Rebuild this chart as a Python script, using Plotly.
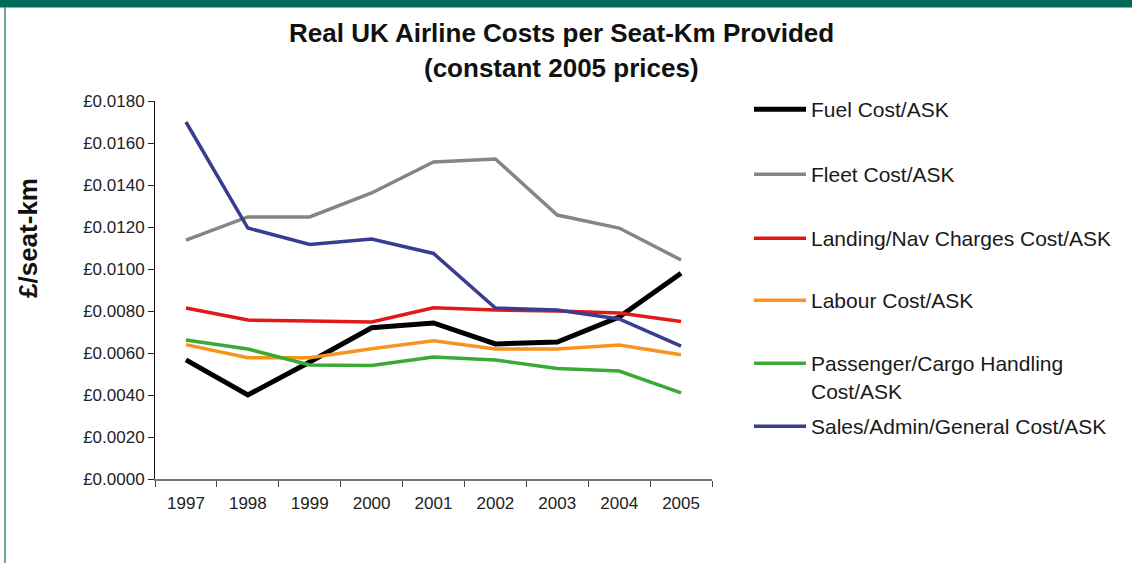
import plotly.graph_objects as go

years = ["1997", "1998", "1999", "2000", "2001", "2002", "2003", "2004", "2005"]

fuel = [0.00567, 0.00400, 0.00557, 0.00720, 0.00743, 0.00643, 0.00652, 0.00771, 0.00980]
fleet = [0.01138, 0.01248, 0.01248, 0.01362, 0.01510, 0.01524, 0.01257, 0.01195, 0.01043]
landing = [0.00814, 0.00757, 0.00752, 0.00748, 0.00815, 0.00805, 0.00800, 0.00790, 0.00750]
labour = [0.00640, 0.00577, 0.00577, 0.00620, 0.00658, 0.00619, 0.00619, 0.00638, 0.00592]
handling = [0.00662, 0.00619, 0.00543, 0.00540, 0.00581, 0.00567, 0.00526, 0.00514, 0.00410]
sales = [0.01700, 0.01195, 0.01117, 0.01143, 0.01074, 0.00814, 0.00805, 0.00762, 0.00633]

names = ["Fuel Cost/ASK", "Fleet Cost/ASK", "Landing/Nav Charges Cost/ASK",
         "Labour Cost/ASK", "Passenger/Cargo Handling<br>Cost/ASK",
         "Sales/Admin/General Cost/ASK"]
series = [fuel, fleet, landing, labour, handling, sales]
colors = ["#000000", "#858585", "#E2191B", "#F7941E", "#3BAA35", "#393D8F"]
widths = [5, 3.5, 3.5, 3.5, 3.5, 3.5]
legend_ids = ["legend", "legend2", "legend3", "legend4", "legend5", "legend6"]
legend_rows = [107, 172, 236, 298, 361, 424]  # pixel centre of each legend line sample

W, H = 1132, 563
L, R, T, B = 155, 712, 101, 479

fig = go.Figure()
for i, (nm, ys) in enumerate(zip(names, series)):
    fig.add_trace(go.Scatter(
        x=years, y=ys, name=nm, mode="lines",
        line=dict(color=colors[i], width=widths[i]),
        legend=legend_ids[i],
    ))

def px(x):
    return (x - L) / (R - L)

def py(y):
    return (B - y) / (B - T)

font_family = "Liberation Sans, Arial, sans-serif"
legend_font = dict(family=font_family, size=21, color="#1a1a1a")

legend_layouts = {}
for lid, row in zip(legend_ids, legend_rows):
    legend_layouts[lid] = dict(
        xref="container", yref="container",
        x=749 / W, y=1 - (row - 18) / H, xanchor="left", yanchor="top",
        font=legend_font, itemwidth=52, valign="top",
        bgcolor="rgba(0,0,0,0)",
    )

fig.update_layout(
    width=W, height=H,
    margin=dict(l=L, r=W - R, t=T, b=H - B),
    paper_bgcolor="white", plot_bgcolor="white",
    font=dict(family=font_family, color="#222"),
    showlegend=True,
    xaxis=dict(
        type="category", range=[-0.5, 8.5], tickson="boundaries",
        ticks="outside", ticklen=6, tickcolor="#444", tickwidth=1,
        showline=True, linecolor="#777", linewidth=2,
        showgrid=False, zeroline=False, ticklabelstandoff=8,
        tickfont=dict(size=17, color="#222"),
    ),
    yaxis=dict(
        range=[0, 0.018], dtick=0.002, tickformat=".4f", tickprefix="£",
        ticks="outside", ticklen=6, tickcolor="#222", tickwidth=1,
        showline=True, linecolor="#111", linewidth=1,
        showgrid=False, zeroline=False,
        tickfont=dict(size=17, color="#222"),
    ),
    annotations=[
        dict(text="<b>Real UK Airline Costs per Seat-Km Provided</b>", xref="paper", yref="paper",
             x=px(561), y=py(33), xanchor="center", yanchor="middle", showarrow=False,
             font=dict(size=26, color="#111")),
        dict(text="<b>(constant 2005 prices)</b>", xref="paper", yref="paper",
             x=px(561), y=py(68), xanchor="center", yanchor="middle", showarrow=False,
             font=dict(size=26, color="#111")),
        dict(text="<b>£/seat-km</b>", xref="paper", yref="paper", textangle=-90,
             x=px(28), y=py(238), xanchor="center", yanchor="middle", showarrow=False,
             font=dict(size=26, color="#111")),
    ],
    shapes=[
        dict(type="rect", xref="paper", yref="paper", x0=px(-2), x1=px(W + 2), y0=py(0), y1=py(7.5),
             fillcolor="#006A5A", line=dict(width=0), layer="above"),
        dict(type="line", xref="paper", yref="paper", x0=px(5), x1=px(5), y0=py(7), y1=py(H + 2),
             line=dict(color="#3E8A7C", width=1.5)),
    ],
    **legend_layouts,
)

fig.write_html("out.html")
